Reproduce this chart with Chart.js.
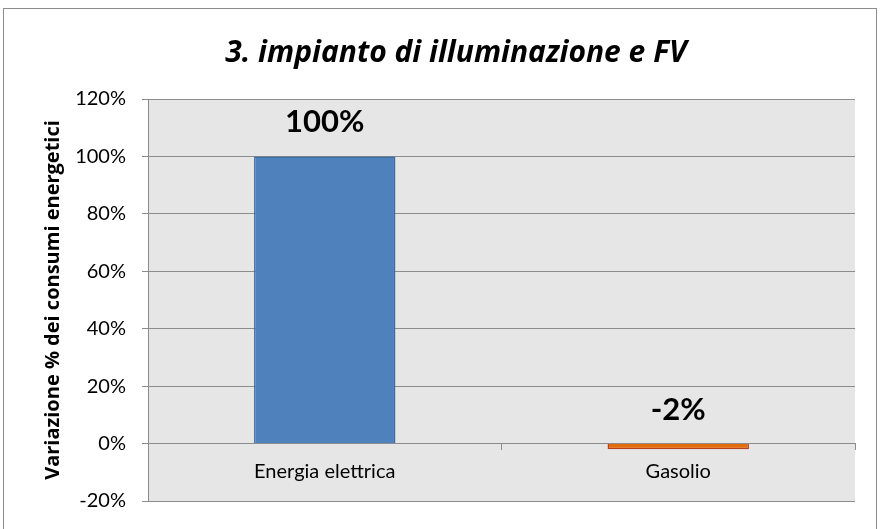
<!DOCTYPE html>
<html>
<head>
<meta charset="utf-8">
<script src="https://cdn.jsdelivr.net/npm/chart.js@4.4.1/dist/chart.umd.min.js"></script>
<style>
  html, body { margin: 0; padding: 0; background: #fff; }
  #wrap { width: 880px; height: 529px; }
</style>
</head>
<body>
<div id="wrap"><canvas id="chart" width="880" height="529"></canvas></div>
<script>
  const categories = ['Energia elettrica', 'Gasolio'];
  const variazione = [100, -2];
  const barColors = ['#4F81BD', '#E46C0A'];
  const barBorders = ['#3E6BA3', '#B5431F'];
  const yTicks = { min: -20, max: 120, step: 20 };

  const FONT = "Lato, 'Open Sans', sans-serif";
  const WIDE = "'Open Sans', Lato, sans-serif";

  // sfondo, cornice esterna e area grigia del grafico
  const frame = {
    id: 'frame',
    beforeDraw(chart) {
      const { ctx, chartArea: a } = chart;
      ctx.save();
      ctx.fillStyle = '#fff';
      ctx.fillRect(0, 0, chart.width, chart.height);
      ctx.strokeStyle = '#8c8c8c';
      ctx.lineWidth = 1;
      ctx.strokeRect(3.5, 8.5, 873, 560);
      ctx.fillStyle = '#E6E6E6';
      ctx.fillRect(a.left, a.top, a.right - a.left, a.bottom - a.top);
      ctx.restore();
    }
  };

  // etichette dati sopra le barre
  const valueLabels = {
    id: 'valueLabels',
    afterDatasetsDraw(chart) {
      const { ctx } = chart;
      const y = chart.scales.y;
      const meta = chart.getDatasetMeta(0);
      ctx.save();
      ctx.font = 'bold 31px ' + FONT;
      ctx.fillStyle = '#000';
      ctx.textAlign = 'center';
      ctx.textBaseline = 'middle';
      meta.data.forEach((bar, i) => {
        const v = variazione[i];
        ctx.fillText(v + '%', bar.x, y.getPixelForValue(Math.max(v, 0)) - 34);
      });
      ctx.restore();
    }
  };

  new Chart(document.getElementById('chart'), {
    type: 'bar',
    data: {
      labels: categories,
      datasets: [{
        data: variazione,
        backgroundColor: barColors,
        borderColor: barBorders,
        borderWidth: 1.5,
        barPercentage: 0.4,
        categoryPercentage: 1
      }]
    },
    options: {
      responsive: false,
      animation: false,
      // padding sinistro ampio per spostare il titolo verso destra come nell'originale
      layout: { padding: { left: 57, right: 25, bottom: 27, top: 0 } },
      plugins: {
        legend: { display: false },
        tooltip: { enabled: false },
        title: {
          display: true,
          text: '3. impianto di illuminazione e FV',
          color: '#000',
          font: { family: WIDE, size: 30, weight: 'bold', style: 'italic' },
          padding: { top: 35, bottom: 28 }
        }
      },
      scales: {
        x: {
          position: { y: 0 },
          grid: { display: true, drawOnChartArea: false, drawTicks: true, tickLength: 6, color: '#8c8c8c', offset: true },
          border: { display: true, color: '#8c8c8c' },
          ticks: { color: '#000', font: { family: FONT, size: 20 }, padding: 10 }
        },
        y: {
          min: yTicks.min,
          max: yTicks.max,
          afterFit(scale) { scale.width = 91; },
          grid: { color: '#8c8c8c', tickLength: 6 },
          border: { display: true, color: '#8c8c8c' },
          ticks: {
            stepSize: yTicks.step,
            color: '#000',
            font: { family: FONT, size: 20 },
            padding: 16,
            callback: v => v + '%'
          },
          title: {
            display: true,
            text: 'Variazione % dei consumi energetici',
            color: '#000',
            font: { family: WIDE, size: 20, weight: 'bold' },
            padding: { top: -16, bottom: 0 }
          }
        }
      }
    },
    plugins: [frame, valueLabels]
  });
</script>
</body>
</html>
